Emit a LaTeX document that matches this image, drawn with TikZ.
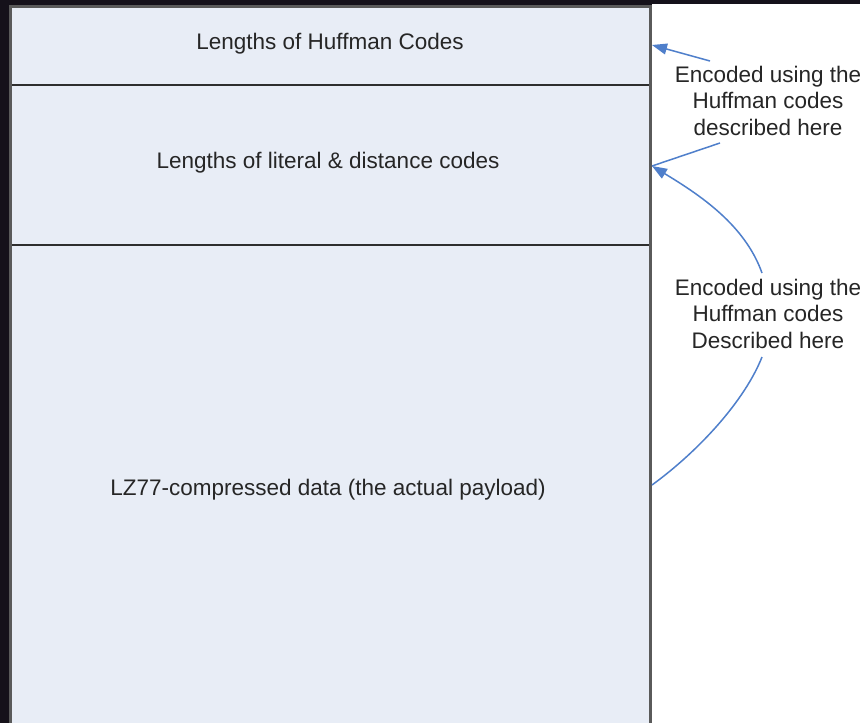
\documentclass[tikz,border=0pt]{standalone}
\usepackage{fontspec}
\setmainfont{Liberation Sans}
\usetikzlibrary{arrows.meta}
\definecolor{bgdark}{HTML}{15111A}
\definecolor{boxfill}{HTML}{E8EDF6}
\definecolor{boxline}{HTML}{5A5A5A}
\definecolor{divline}{HTML}{2E2E2E}
\definecolor{arrowblue}{HTML}{4F7FCB}
\definecolor{txt}{HTML}{262626}
\begin{document}
\begin{tikzpicture}[x=1pt,y=-1pt,
  lbl/.style={text=txt,font=\fontsize{22.5}{26.5}\selectfont,inner sep=0pt},
  side/.style={lbl,align=center},
  conn/.style={draw=arrowblue,line width=1.5pt},
  tip/.style={-{Triangle[length=15pt,width=11pt]}}]
\useasboundingbox (0,0) rectangle (860,723);
\fill[bgdark] (0,0) rectangle (860,723);
\fill[white] (652,4) rectangle (860,723);
\fill[boxfill] (10,6) rectangle (650,723);
% sections
\draw[divline,line width=2pt] (10,85) -- (650,85);
\draw[divline,line width=2pt] (10,245) -- (650,245);
\draw[boxline,line width=3pt] (10.5,740) -- (10.5,6) -- (650.5,6) -- (650.5,740);
% texts
\node[lbl] (t1) at (330,44) {Lengths of Huffman Codes};
\node[lbl] (t2) at (328,163) {Lengths of literal \& distance codes};
\node[lbl] (t3) at (328,490) {LZ77-compressed data (the actual payload)};
\node[side] (s1) at (768,100.5) {Encoded using the\\Huffman codes\\described here};
\node[side] (s2) at (768,313.5) {Encoded using the\\Huffman codes\\Described here};
% anchor points on box edge
\coordinate (e1) at (652,45);
\coordinate (e2) at (652,166);
\coordinate (e3) at (652,485);
\coordinate (a1) at (710,61);
\coordinate (a2) at (720,143);
\coordinate (a3) at (762,273);
\coordinate (a4) at (762,357);
\draw[conn,tip] (a1) -- (e1);
\draw[conn] (a2) -- (e2);
\draw[conn,tip] (a3) .. controls (745,225) and (700,195) .. (e2);
\draw[conn] (a4) .. controls (745,400) and (700,450) .. (e3);
\end{tikzpicture}
\end{document}
